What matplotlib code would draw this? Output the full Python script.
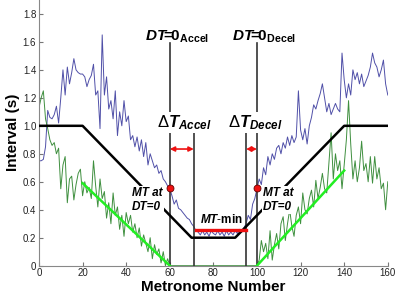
import numpy as np
import matplotlib
matplotlib.use("Agg")
import matplotlib.pyplot as plt

plt.rcParams['font.family'] = ['Liberation Sans', 'DejaVu Sans']
plt.rcParams['mathtext.fontset'] = 'custom'
plt.rcParams['mathtext.rm'] = 'Liberation Sans'
plt.rcParams['mathtext.it'] = 'Liberation Sans:italic'
plt.rcParams['mathtext.bf'] = 'Liberation Sans:bold'
plt.rcParams['mathtext.bfit'] = 'Liberation Sans:bold:italic'

# ---------------- data ----------------
metronome = np.arange(0, 161)

blue_interval = [
    0.75, 0.75, 0.76, 0.85, 1.11, 1.06, 1.05, 1.08, 1.14, 1.02,
    1.20, 1.40, 1.22, 1.42, 1.30, 1.38, 1.48, 1.40, 1.38, 1.37,
    1.37, 1.35, 1.28, 1.33, 1.36, 1.44, 1.22, 1.25, 0.98, 1.65,
    1.22, 1.35, 1.12, 1.18, 1.05, 1.25, 0.93, 1.10, 1.00, 1.18,
    1.03, 1.07, 0.90, 0.93, 0.85, 0.92, 0.82, 0.90, 0.78, 0.88,
    0.72, 0.80, 0.75, 0.70, 0.72, 0.66, 0.68, 0.62, 0.60, 0.57,
    0.55,
    0.50, 0.44, 0.47, 0.41, 0.40, 0.38, 0.36, 0.34, 0.33, 0.30,
    0.28, 0.25, 0.24, 0.22, 0.25, 0.22, 0.24, 0.21, 0.25, 0.23,
    0.22, 0.25, 0.22, 0.24, 0.21, 0.25, 0.22, 0.24, 0.22, 0.25,
    0.23, 0.26, 0.24, 0.27, 0.30, 0.36, 0.33, 0.44, 0.48, 0.55,
    0.62, 0.58, 0.70, 0.65, 0.78, 0.72, 0.80, 0.76, 0.84, 0.86,
    0.80, 0.88, 0.84, 0.92, 0.86, 0.93, 0.88, 0.92, 1.25, 0.97,
    0.90, 0.98, 0.87, 1.00, 1.06, 1.15, 1.12, 1.18, 1.23, 1.30,
    1.20, 1.10, 1.16, 1.08, 1.12, 1.16, 1.12, 1.10, 1.52, 1.33,
    1.20, 1.30, 1.22, 1.40, 1.33, 1.38, 1.30, 1.37, 1.28, 1.32,
    1.36, 1.42, 1.52, 1.45, 1.42, 1.35, 1.40, 1.47, 1.30, 1.22,
]

green_interval = [
    1.13, 1.20, 1.25, 1.05, 0.98, 0.90, 0.86, 0.88, 0.80, 0.84,
    0.55, 0.72, 0.78, 0.45, 0.62, 0.64, 0.47, 0.58, 0.66, 0.69,
    0.50, 0.60, 0.52, 0.56, 0.48, 0.75, 0.57, 0.42, 0.62, 0.48,
    0.53, 0.34, 0.45, 0.30, 0.52, 0.36, 0.42, 0.26, 0.36, 0.21,
    0.38, 0.30, 0.36, 0.24, 0.30, 0.20, 0.27, 0.14, 0.22, 0.16,
    0.10, 0.20, 0.05, 0.15, 0.08, 0.12, 0.02, 0.10, 0.00, 0.05,
    0.00,
    0, 0, 0, 0, 0, 0, 0, 0, 0, 0, 0, 0, 0, 0, 0, 0, 0, 0, 0, 0,
    0, 0, 0, 0, 0, 0, 0, 0, 0, 0, 0, 0, 0, 0, 0, 0, 0, 0, 0,
    0.00, 0.04, 0.18, 0.10, 0.16, 0.05, 0.25, 0.04, 0.15, 0.23,
    0.12, 0.30, 0.35, 0.18, 0.30, 0.40, 0.28, 0.21, 0.36, 0.42,
    0.30, 0.52, 0.40, 0.37, 0.48, 0.54, 0.42, 0.61, 0.48, 0.56,
    0.66, 0.55, 0.52, 0.73, 0.95, 0.62, 0.80, 0.68, 0.75, 0.55,
    0.72, 0.90, 1.18, 0.87, 0.62, 0.75, 0.60, 0.70, 0.89, 0.68,
    0.73, 0.60, 0.78, 0.59, 0.78, 0.62, 0.70, 0.55, 0.59, 0.40,
    0.60,
]

model_x = [0, 20, 70, 90, 140, 160]
model_y = [1.0, 1.0, 0.2, 0.2, 1.0, 1.0]

fit_accel_x = [20, 60]
fit_accel_y = [0.59, 0.0]
fit_decel_x = [100, 140]
fit_decel_y = [0.0, 0.68]

marker_x = [60, 71, 95, 100]
marker_top = [1.59, 0.95, 0.95, 1.59]

mtmin_x = [72, 95]
mtmin_y = [0.255, 0.255]

dt0_x = [60, 100]
dt0_y = [0.553, 0.553]

arrow_y = 0.834

xticks = [0, 20, 40, 60, 80, 100, 120, 140, 160]
yticks = [0, 0.2, 0.4, 0.6, 0.8, 1.0, 1.2, 1.4, 1.6, 1.8]
ytick_labels = ['0', '0.2', '0.4', '0.6', '0.8', '1.0', '1.2', '1.4', '1.6', '1.8']

# ---------------- figure ----------------
fig = plt.figure(figsize=(3.99, 2.94), dpi=100)
ax = fig.add_axes([0.0977, 0.0963, 0.8742, 0.904])

ax.plot(metronome, blue_interval, color='#5050a8', lw=0.7, zorder=2)
ax.plot(metronome, green_interval, color='#3f8f3f', lw=0.7, zorder=2)

for xv, top in zip(marker_x, marker_top):
    ax.plot([xv, xv], [0, top], color='#333333', lw=1.2, zorder=3)

ax.plot(model_x, model_y, color='black', lw=1.8, zorder=4)
ax.plot(fit_accel_x, fit_accel_y, color='#22ee22', lw=1.8, zorder=4)
ax.plot(fit_decel_x, fit_decel_y, color='#22ee22', lw=1.8, zorder=4)
ax.plot(mtmin_x, mtmin_y, color='#ee1111', lw=2.4, zorder=5)
ax.plot(dt0_x, dt0_y, 'o', color='#ee1111', markeredgecolor='#660000',
        markersize=5, markeredgewidth=0.6, zorder=6)

ap = dict(arrowstyle='<|-|>', color='#ee1111', lw=1.2, mutation_scale=7,
          shrinkA=0, shrinkB=0)
ax.annotate('', xy=(marker_x[1], arrow_y), xytext=(marker_x[0], arrow_y), arrowprops=ap, zorder=6)
ax.annotate('', xy=(marker_x[3], arrow_y), xytext=(marker_x[2], arrow_y), arrowprops=ap, zorder=6)

wbox = dict(facecolor='white', edgecolor='none', pad=0.8)

ax.text(48.6, 1.612, r'$\mathbfit{DT}\!\!\mathbf{=}\!\!\mathbf{0}_{\mathbf{Accel}}$', fontsize=11,
        ha='left', va='baseline', zorder=7)
ax.text(88.5, 1.612, r'$\mathbfit{DT}\!\!\mathbf{=}\!\!\mathbf{0}_{\mathbf{Decel}}$', fontsize=11,
        ha='left', va='baseline', zorder=7)
ax.text(54.0, 0.99, r'$\Delta\mathbfit{T}_{\mathbfit{Accel}}$', fontsize=12,
        ha='left', va='baseline', bbox=wbox, zorder=7)
ax.text(86.5, 0.99, r'$\Delta\mathbfit{T}_{\mathbfit{Decel}}$', fontsize=12,
        ha='left', va='baseline', bbox=wbox, zorder=7)

ax.text(42.7, 0.469, 'MT at\nDT=0', fontsize=8.5, fontweight='bold', fontstyle='italic',
        ha='left', va='center', linespacing=1.2, bbox=wbox, zorder=7)
ax.text(102.8, 0.469, 'MT at\nDT=0', fontsize=8.5, fontweight='bold', fontstyle='italic',
        ha='left', va='center', linespacing=1.2, bbox=wbox, zorder=7)
ax.text(83.5, 0.305, r'$\mathbfit{MT}\mathbf{\text{-}min}$', fontsize=8.5,
        ha='center', va='baseline', zorder=7)

ax.set_xlim(0, 160)
ax.set_ylim(0, 1.9)
ax.set_xticks(xticks)
ax.set_yticks(yticks)
ax.set_yticklabels(ytick_labels)
ax.tick_params(direction='in', length=3, width=0.8, color='#777777',
               labelsize=7, labelcolor='#222222', pad=2)
for s in ['top', 'right']:
    ax.spines[s].set_visible(False)
for s in ['left', 'bottom']:
    ax.spines[s].set_color('#888888')
    ax.spines[s].set_linewidth(0.8)

ax.set_xlabel('Metronome Number', fontsize=11, fontweight='bold', labelpad=1)
ax.set_ylabel('Interval (s)', fontsize=11, fontweight='bold', labelpad=2)

fig.savefig('out.png', dpi=100)
